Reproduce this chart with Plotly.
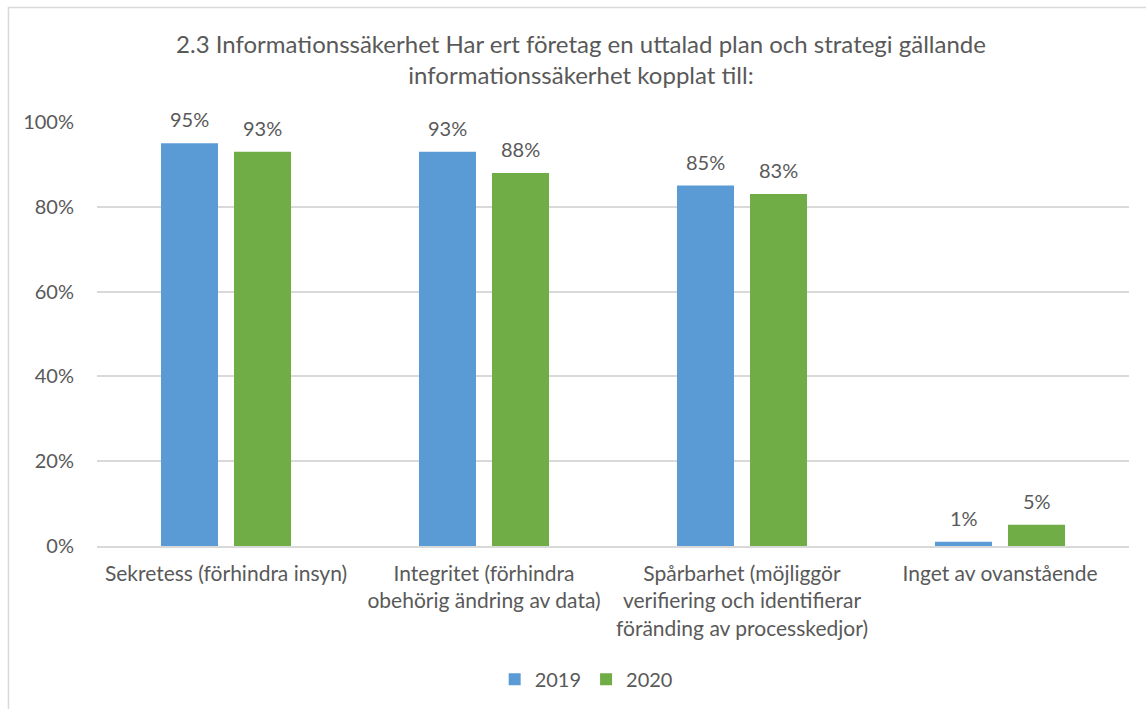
import plotly.graph_objects as go

categories = [
    "Sekretess (förhindra insyn)",
    "Integritet (förhindra<br>obehörig ändring av data)",
    "Spårbarhet (möjliggör<br>verifiering och identifierar<br>föränding av processkedjor)",
    "Inget av ovanstående",
]
values_2019 = [0.95, 0.93, 0.85, 0.01]
values_2020 = [0.93, 0.88, 0.83, 0.05]
series_names = ["2019", "2020"]
tick_values = [0, 0.2, 0.4, 0.6, 0.8, 1.0]
tick_labels = ["0%", "20%", "40%", "60%", "80%", "100%"]

FONT = "Lato"
TEXT = "#595959"
colors = ["#5B9BD5", "#70AD47"]

fig = go.Figure()
annotations = []
for idx, (name, vals, col) in enumerate(zip(series_names, [values_2019, values_2020], colors)):
    fig.add_trace(go.Bar(
        x=categories, y=vals, name=name,
        marker=dict(color=col, line=dict(width=0)),
    ))
    # value labels above each bar, offset to the bar's slot within the group
    for cat, v in zip(categories, vals):
        annotations.append(dict(
            x=cat, y=v, xref="x", yref="y",
            text=f"{round(v*100)}%", showarrow=False,
            xanchor="center", yanchor="bottom",
            xshift=-36.5 if idx == 0 else 36.5, yshift=10,
            font=dict(family=FONT, size=20, color=TEXT),
        ))

fig.update_layout(
    width=1146, height=709,
    margin=dict(l=97, r=17, t=122, b=163, autoexpand=False),
    paper_bgcolor="white", plot_bgcolor="white",
    barmode="group", bargap=0.434, bargroupgap=0.219,
    title=dict(
        text="2.3 Informationssäkerhet Har ert företag en uttalad plan och strategi gällande<br>informationssäkerhet kopplat till:",
        x=0.507, xanchor="center", y=0.925, yanchor="middle",
        font=dict(family=FONT, size=24, color=TEXT),
    ),
    font=dict(family=FONT, color=TEXT),
    xaxis=dict(
        tickfont=dict(family=FONT, size=21, color=TEXT),
        showline=True, linecolor="#D9D9D9", linewidth=1.5,
        ticks="outside", ticklen=8, tickcolor="white", showgrid=False,
        automargin=False,
    ),
    yaxis=dict(
        range=[0, 1.0], tickvals=tick_values, ticktext=tick_labels,
        tickfont=dict(family=FONT, size=20, color=TEXT),
        showgrid=True, gridcolor="#D9D9D9", gridwidth=1.5,
        zeroline=False, showline=False, ticks="outside",
        ticklen=18, tickcolor="white", automargin=False,
    ),
    legend=dict(
        orientation="h", x=0.474, xanchor="center",
        yref="container", y=0.042, yanchor="middle",
        font=dict(family=FONT, size=20, color=TEXT),
        itemwidth=30,
    ),
    annotations=annotations,
    shapes=[dict(
        type="rect", xref="paper", yref="paper",
        x0=-0.0858, x1=1.2, y0=-1.0, y1=1.2703,
        line=dict(color="#D9D9D9", width=1.5), fillcolor="rgba(0,0,0,0)",
        layer="below",
    )],
)

fig.write_html("out.html")
